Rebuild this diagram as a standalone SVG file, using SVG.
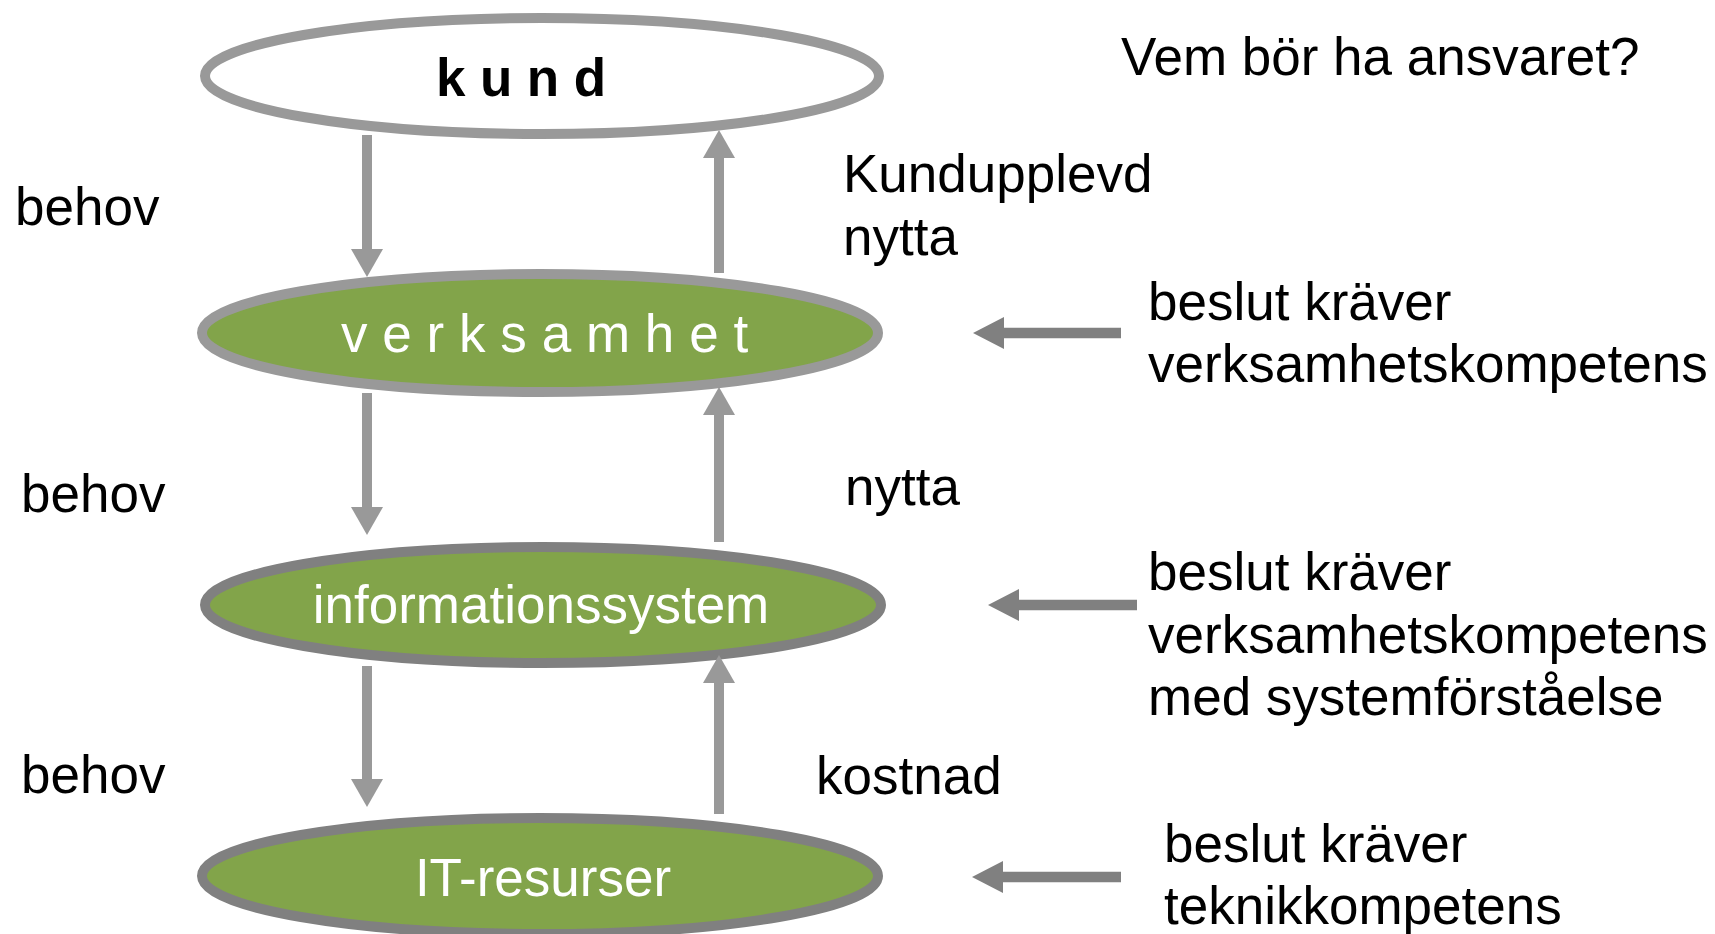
<svg xmlns="http://www.w3.org/2000/svg" width="1715" height="934" viewBox="0 0 1715 934">
  <style>
    text { font-family: "Liberation Sans", Arial, sans-serif; font-size: 53px; fill: #000; }
    .node-text { fill: #fff; }
    .light { stroke: #999999; stroke-width: 10; fill: none; }
    .dark { stroke: #808080; stroke-width: 10.5; fill: none; }
    .green { fill: #82A44A; }
  </style>
  <defs>
    <marker id="headLight" markerUnits="userSpaceOnUse" markerWidth="28" markerHeight="32" refX="0" refY="16" orient="auto">
      <path d="M0,0 L28,16 L0,32 Z" fill="#999999"/>
    </marker>
    <marker id="headDark" markerUnits="userSpaceOnUse" markerWidth="31" markerHeight="32" refX="0" refY="16" orient="auto">
      <path d="M0,0 L31,16 L0,32 Z" fill="#808080"/>
    </marker>
  </defs>
  <rect width="1715" height="934" fill="#fff"/>

  <g id="node-kund">
    <ellipse cx="542" cy="76" rx="337" ry="58" fill="#fff" stroke="#999999" stroke-width="10"/>
    <text x="436" y="96" font-weight="bold" letter-spacing="14.5">kund</text>
  </g>
  <g id="node-verksamhet">
    <ellipse cx="540" cy="333" rx="338" ry="59" class="green" stroke="#999999" stroke-width="10"/>
    <text class="node-text" x="341" y="352" letter-spacing="14.8">verksamhet</text>
  </g>
  <g id="node-informationssystem">
    <ellipse cx="543" cy="605" rx="338" ry="58" class="green" stroke="#808080" stroke-width="10"/>
    <text class="node-text" x="541" y="623" text-anchor="middle">informationssystem</text>
  </g>
  <g id="node-it-resurser">
    <ellipse cx="540" cy="876" rx="338" ry="58" class="green" stroke="#808080" stroke-width="10"/>
    <text class="node-text" x="543" y="896" text-anchor="middle">IT-resurser</text>
  </g>

  <g id="connectors">
    <line class="light" x1="367" y1="135" x2="367" y2="249" marker-end="url(#headLight)"/>
    <line class="light" x1="719" y1="273" x2="719" y2="158" marker-end="url(#headLight)"/>
    <line class="light" x1="367" y1="393" x2="367" y2="507" marker-end="url(#headLight)"/>
    <line class="light" x1="719" y1="542" x2="719" y2="415" marker-end="url(#headLight)"/>
    <line class="light" x1="367" y1="666" x2="367" y2="779" marker-end="url(#headLight)"/>
    <line class="light" x1="719" y1="814" x2="719" y2="683" marker-end="url(#headLight)"/>
    <line class="dark" x1="1121" y1="333" x2="1004" y2="333" marker-end="url(#headDark)"/>
    <line class="dark" x1="1137" y1="605" x2="1019" y2="605" marker-end="url(#headDark)"/>
    <line class="dark" x1="1121" y1="877" x2="1003" y2="877" marker-end="url(#headDark)"/>
  </g>

  <g id="labels">
    <text x="1121" y="75">Vem bör ha ansvaret?</text>
    <text x="15" y="225">behov</text>
    <text x="21" y="512">behov</text>
    <text x="21" y="793">behov</text>
    <text x="843" y="192">Kundupplevd<tspan x="843" dy="63">nytta</tspan></text>
    <text x="845" y="505">nytta</text>
    <text x="816" y="794">kostnad</text>
    <text x="1148" y="320">beslut kräver<tspan x="1148" dy="62">verksamhetskompetens</tspan></text>
    <text x="1148" y="590">beslut kräver<tspan x="1148" dy="62.5">verksamhetskompetens</tspan><tspan x="1148" dy="62.5">med systemförståelse</tspan></text>
    <text x="1164" y="862">beslut kräver<tspan x="1164" dy="62">teknikkompetens</tspan></text>
  </g>
</svg>
